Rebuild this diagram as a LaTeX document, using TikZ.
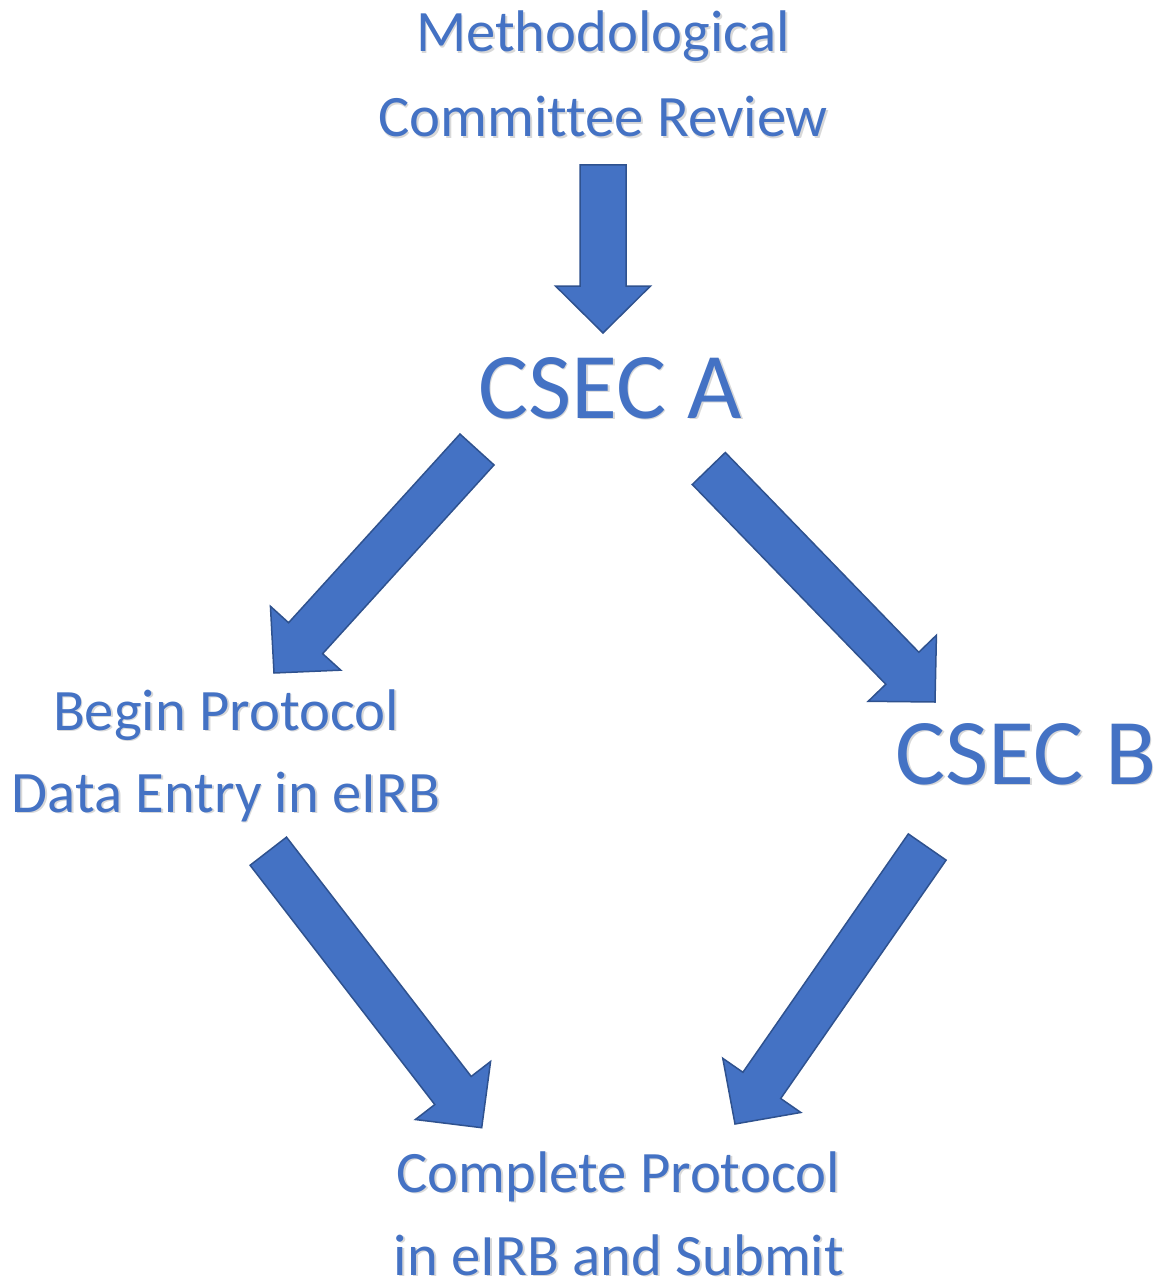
\documentclass[tikz,border=0pt]{standalone}
\usepackage{fontspec}
\setmainfont{Carlito}[Ligatures=NoCommon]
\usetikzlibrary{calc}
\definecolor{accent}{HTML}{4472C4}
\definecolor{accentdark}{HTML}{2F528F}
\tikzset{
  lbl/.style={text=accent, anchor=base, inner sep=0pt, text depth=0pt, font=\fontsize{58.7}{70}\selectfont},
  biglbl/.style={lbl, font=\fontsize{94}{110}\selectfont},
  blockarrow/.style={fill=accent, draw=accentdark, line width=1.5pt, line join=miter},
}
% #1 name, #2 style, #3 position, #4 text
\newcommand{\lbl}[4]{%
  \node[#2, text=black!70, opacity=0.22] (#1s) at ($(#3)+(1.8,1.8)$) {#4};
  \node[#2] (#1) at (#3) {#4};
}
% #1 tail coordinate, #2 tip coordinate
\newcommand{\blockarr}[2]{%
  \coordinate (#1#2b) at ($(#2)!47pt!(#1)$);
  \draw[blockarrow]
    ($(#1)!23pt!90:(#2)$) --
    ($(#1#2b)!23pt!-90:(#1)$) --
    ($(#1#2b)!47.5pt!-90:(#1)$) --
    (#2) --
    ($(#1#2b)!47.5pt!90:(#1)$) --
    ($(#1#2b)!23pt!90:(#1)$) --
    ($(#1)!23pt!-90:(#2)$) -- cycle;
}
\begin{document}
\begin{tikzpicture}[x=1pt,y=-1pt]
\useasboundingbox (0,0) rectangle (1158,1281);
% labels
\lbl{mcr1}{lbl}{603,52}{Methodological}
\lbl{mcr2}{lbl}{603,137}{Committee Review}
\lbl{cseca}{biglbl}{610,418}{CSEC A}
\lbl{bp1}{lbl}{226,730}{Begin Protocol}
\lbl{bp2}{lbl}{226,812}{Data Entry in eIRB}
\lbl{csecb}{biglbl}{1026,784}{CSEC B}
\lbl{cp1}{lbl}{618,1192}{Complete Protocol}
\lbl{cp2}{lbl}{619,1275}{in eIRB and Submit}
% arrow end points
\coordinate (t1) at (603,165);   \coordinate (h1) at (603,333);
\coordinate (t2) at (477,449.5); \coordinate (h2) at (274,673);
\coordinate (t3) at (708.8,468.5); \coordinate (h3) at (935,702);
\coordinate (t4) at (268.3,851.2); \coordinate (h4) at (481.7,1127.7);
\coordinate (t5) at (927.2,847);   \coordinate (h5) at (735,1124);
\blockarr{t1}{h1}
\blockarr{t2}{h2}
\blockarr{t3}{h3}
\blockarr{t4}{h4}
\blockarr{t5}{h5}
\end{tikzpicture}
\end{document}
